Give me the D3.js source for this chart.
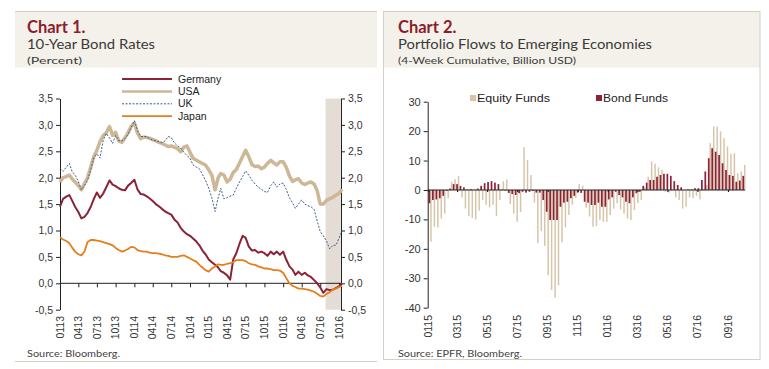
<!DOCTYPE html>
<html>
<head>
<meta charset="utf-8">
<script src="https://cdn.jsdelivr.net/npm/d3@7"></script>
<style>
  body { margin: 0; background: #fff; }
  svg { display: block; font-family: "Liberation Sans", Arial, sans-serif; }
  .ttl { font-family: Lato, "Noto Sans", sans-serif; }
</style>
</head>
<body>
<svg id="chart" width="769" height="369"></svg>
<script>
// ---- Chart 1: 10-year bond rates, semi-monthly readings (1st and 16th), Jan 2013 - Oct 2016
const germany = [1.45,1.6,1.64,1.67,1.57,1.45,1.35,1.23,1.26,1.33,1.45,1.6,1.72,1.62,1.7,1.82,1.95,1.87,1.84,1.8,
  1.77,1.76,1.85,1.9,1.96,1.78,1.69,1.68,1.65,1.61,1.56,1.5,1.46,1.41,1.36,1.33,1.3,1.21,1.15,1.05,
  0.98,0.93,0.9,0.85,0.79,0.72,0.62,0.55,0.45,0.4,0.35,0.3,0.23,0.2,0.15,0.07,0.45,0.57,0.75,0.9,
  0.86,0.7,0.62,0.63,0.58,0.6,0.57,0.52,0.6,0.55,0.6,0.54,0.6,0.45,0.32,0.26,0.16,0.22,0.16,0.2,
  0.15,0.12,0.06,0.0,-0.08,-0.18,-0.11,-0.13,-0.12,-0.09,-0.06,0.0];
const usa = [1.92,2.0,2.02,2.05,1.98,1.92,1.85,1.77,1.89,2.0,2.2,2.4,2.52,2.68,2.8,2.85,2.97,2.8,2.86,2.7,
  2.67,2.76,2.85,2.97,3.04,2.85,2.74,2.77,2.76,2.75,2.72,2.7,2.67,2.65,2.62,2.59,2.6,2.58,2.55,2.49,
  2.58,2.6,2.48,2.37,2.33,2.3,2.27,2.24,2.15,2.05,1.77,2.0,2.08,2.05,1.92,1.97,2.1,2.15,2.28,2.4,
  2.52,2.4,2.25,2.21,2.22,2.17,2.2,2.27,2.33,2.28,2.24,2.3,2.3,2.2,2.03,1.93,1.96,1.98,1.9,1.87,
  1.9,1.92,1.88,1.75,1.5,1.5,1.57,1.6,1.63,1.67,1.7,1.78];
const uk = [2.18,2.12,2.2,2.27,2.12,2.05,1.93,1.77,1.85,1.95,2.15,2.38,2.45,2.37,2.71,2.84,2.75,2.65,2.8,2.7,
  2.7,2.74,2.82,2.95,3.08,2.9,2.78,2.78,2.78,2.74,2.71,2.7,2.68,2.66,2.7,2.78,2.76,2.66,2.6,2.56,
  2.48,2.42,2.37,2.24,2.2,2.17,2.06,1.95,1.8,1.62,1.36,1.62,1.8,1.6,1.62,1.65,1.67,1.8,1.92,2.02,
  2.13,2.05,1.95,1.88,1.82,1.78,1.74,1.72,1.85,1.92,1.82,1.88,1.9,1.78,1.62,1.52,1.42,1.5,1.58,1.5,
  1.47,1.45,1.4,1.18,0.98,0.9,0.8,0.65,0.72,0.72,0.85,1.0];
const japan = [0.87,0.83,0.8,0.76,0.68,0.6,0.55,0.53,0.6,0.78,0.82,0.82,0.81,0.8,0.78,0.76,0.74,0.72,0.67,0.63,
  0.6,0.62,0.65,0.69,0.68,0.63,0.61,0.6,0.6,0.58,0.57,0.57,0.56,0.55,0.53,0.52,0.5,0.5,0.5,0.52,
  0.53,0.5,0.47,0.44,0.41,0.35,0.3,0.25,0.22,0.28,0.32,0.36,0.35,0.35,0.37,0.38,0.4,0.44,0.44,0.44,
  0.42,0.38,0.36,0.35,0.32,0.3,0.28,0.28,0.27,0.25,0.25,0.24,0.2,0.1,0.0,-0.05,-0.07,-0.1,-0.1,-0.11,
  -0.12,-0.14,-0.16,-0.2,-0.24,-0.25,-0.2,-0.17,-0.12,-0.1,-0.07,-0.05];
const rateTicks = [-0.5, 0, 0.5, 1, 1.5, 2, 2.5, 3, 3.5];
const shadePeriod = ['2016-07-27', '2016-10-10'];

// ---- Chart 2: portfolio flows, weekly (4-week cumulative, bn USD), Jan 2015 - Sep 2016
const equityFunds = [-17.6,-12.5,-12.7,-9.7,-8,-2.8,2.8,3.6,4.8,-2.5,-6.3,-8.9,-9.5,-10,-7,-3.4,-5,-5.9,-5,-8.9,
  -3.4,3,3.6,-4.8,-8,-10.8,-7.5,14.5,10.2,5.1,-4.3,-18,-14,-19,-29,-34,-36.6,-32.4,-17.8,-12.7,
  -8.5,-5,-2.8,2,1.4,-6,
  -9,-12.5,-12.3,-10.2,-10.8,-10.8,-8.5,-6.3,-4.5,-6.6,-8,-9.7,-10.2,-6.8,-4.5,-3.4,0.9,4.5,9.7,8.9,
  7.7,6.8,-0.6,-0.9,0.3,-2.5,-3.4,-6.3,-5.7,-2.5,-2.8,-2,-3.2,0.3,1.7,15.9,21.6,21.6,19.9,17.6,
  14.8,12.3,12.5,5.7,6.3,8.5];
const bondFunds = [-4.5,-3.4,-3.2,-2.8,-2,-0.3,0.5,2,2,1.4,0.9,0.2,0.3,0.1,0.5,1.4,2.3,2.7,3,2.5,
  2,0.2,-0.2,-1,-1.4,-1.7,-1.1,-0.6,-0.9,-0.6,-0.3,-0.9,-0.9,-3.4,-7.4,-10.2,-10.2,-10.2,-5.7,-4.3,
  -4,-2.8,-2,-0.9,-1,-4,
  -4.3,-5.1,-5.1,-4.3,-5.7,-5.7,-3.2,-2.5,-0.6,-1.7,-2.5,-4,-4.5,-2.5,-1.1,-0.6,1.4,2.5,3.4,3.4,
  4.5,5.1,5.5,5.5,4.8,3,1.7,0.9,0,0.2,0.2,0.6,0.6,3.4,6.3,10.8,14.2,13,11.9,9.1,
  6.8,5.1,4.8,2.8,3.2,4.8];
const flowTicks = [-40, -30, -20, -10, 0, 10, 20, 30];

const maroon = '#8c2236', tan = '#cdb795', navy = '#3e5d8e', orange = '#e47f1c';
const fmtComma = d => d3.format('.1f')(d).replace('.', ',').replace('\u2212', '-');
const fmtInt = d => d3.format('d')(d).replace('\u2212', '-');
const fmtMY = d3.timeFormat('%m%y');

const svg = d3.select('#chart');

// ---------- frames and headers
svg.append('rect').attr('x', 15).attr('y', 11.5).attr('width', 362).attr('height', 56).attr('fill', '#f4f1ea');
svg.append('line').attr('x1', 15).attr('x2', 377).attr('y1', 11.5).attr('y2', 11.5).attr('stroke', '#d6cfc4');
svg.append('line').attr('x1', 15).attr('x2', 377).attr('y1', 361.5).attr('y2', 361.5).attr('stroke', '#d6cfc4');
svg.append('rect').attr('x', 383.5).attr('y', 11.5).attr('width', 376.5).attr('height', 56).attr('fill', '#f4f1ea');
svg.append('rect').attr('x', 383.5).attr('y', 11.5).attr('width', 376.5).attr('height', 348)
  .attr('fill', 'none').attr('stroke', '#d6cfc4');

// header texts, widths (its font is wider than Lato)
const heads = [
  { x: 27, t: 'Chart 1.', s: '10-Year Bond Rates', sw: 128, n: '(Percent)', nw: 55, src: 'Source: Bloomberg.', srcw: 93 },
  { x: 398, t: 'Chart 2.', s: 'Portfolio Flows to Emerging Economies', sw: 254,
    n: '(4-Week Cumulative, Billion USD)', nw: 178, src: 'Source: EPFR, Bloomberg.', srcw: 124 }
];
heads.forEach(h => {
  svg.append('text').attr('class', 'ttl').attr('x', h.x).attr('y', 33).attr('font-size', 16.5)
    .attr('font-weight', 700).attr('fill', '#8b1c2c').text(h.t);
  svg.append('text').attr('class', 'ttl').attr('x', h.x).attr('y', 48.5).attr('font-size', 12.5)
    .attr('textLength', h.sw).attr('lengthAdjust', 'spacingAndGlyphs')
    .attr('fill', '#3a3a3a').text(h.s);
  svg.append('text').attr('class', 'ttl').attr('x', h.x).attr('y', 64).attr('font-size', 10)
    .attr('textLength', h.nw).attr('lengthAdjust', 'spacingAndGlyphs')
    .attr('fill', '#3a3a3a').text(h.n);
  svg.append('text').attr('class', 'ttl').attr('x', h.x).attr('y', 357).attr('font-size', 9)
    .attr('textLength', h.srcw).attr('lengthAdjust', 'spacingAndGlyphs')
    .attr('fill', '#444').text(h.src);
});

// ---------- Chart 1
const rateDates = d3.merge(d3.timeMonth.range(new Date(2013, 0, 1), new Date(2016, 10, 1))
  .map(m => [m, d3.timeDay.offset(m, 15)]));
const x1 = d3.scaleTime().domain([new Date(2013, 0, 1), new Date(2016, 9, 1)]).range([60, 339]);
const y1 = d3.scaleLinear().domain([-0.5, 3.5]).range([309.7, 98.5]);
const g1 = svg.append('g');

g1.append('rect')
  .attr('x', x1(new Date(shadePeriod[0]))).attr('y', y1(3.5))
  .attr('width', x1(new Date(shadePeriod[1])) - x1(new Date(shadePeriod[0])))
  .attr('height', y1(-0.5) - y1(3.5)).attr('fill', '#e3ddd6');

const leftAxis = g1.append('g').attr('transform', 'translate(60,0)')
  .call(d3.axisLeft(y1).tickValues(rateTicks).tickSize(4).tickSizeOuter(0).tickFormat(fmtComma));
const rightAxis = g1.append('g').attr('transform', 'translate(341,0)')
  .call(d3.axisRight(y1).tickValues(rateTicks).tickSize(4).tickSizeOuter(0).tickFormat(fmtComma));
[leftAxis, rightAxis].forEach(a => {
  a.selectAll('text').attr('font-size', 10.5).attr('fill', '#333');
  a.selectAll('line,path').attr('stroke', '#222');
});

const quarterTicks = d3.timeMonth.every(3).range(new Date(2013, 0, 1), new Date(2016, 9, 2));
g1.append('g').attr('transform', `translate(0,${y1(0)})`)
  .call(d3.axisBottom(x1).tickValues(quarterTicks).tickSize(4).tickSizeOuter(0).tickFormat(''))
  .call(a => a.select('.domain').attr('d', `M60,0H341`))
  .selectAll('line,path').attr('stroke', '#222');
g1.append('g').selectAll('text').data(quarterTicks).join('text')
  .attr('transform', d => `translate(${x1(d)},316) rotate(-90)`)
  .attr('text-anchor', 'end').attr('dy', '0.35em')
  .attr('font-size', 10.5).attr('fill', '#333').text(fmtMY);

const rateLine = d3.line().x((d, i) => x1(rateDates[i])).y(d => y1(d));
const rateSeries = [
  { name: 'Germany', values: germany, color: maroon, w: 2, dash: null },
  { name: 'USA', values: usa, color: tan, w: 3.5, dash: null },
  { name: 'UK', values: uk, color: navy, w: 1, dash: '2,1.5' },
  { name: 'Japan', values: japan, color: orange, w: 1.8, dash: null }
];
['USA', 'UK', 'Germany', 'Japan'].forEach(n => {
  const s = rateSeries.find(r => r.name === n);
  g1.append('path').datum(s.values).attr('d', rateLine)
    .attr('fill', 'none').attr('stroke', s.color).attr('stroke-width', s.w)
    .attr('stroke-dasharray', s.dash).attr('stroke-linejoin', 'round');
});

const leg1 = g1.append('g').selectAll('g').data(rateSeries).join('g')
  .attr('transform', (d, i) => `translate(122,${79 + i * 12.4})`);
leg1.append('line').attr('x1', 0).attr('x2', 50)
  .attr('stroke', d => d.color).attr('stroke-width', d => Math.min(d.w, 2.5)).attr('stroke-dasharray', d => d.dash);
leg1.append('text').attr('x', 56).attr('dy', '0.35em').attr('font-size', 10.5).attr('fill', '#222').text(d => d.name);

// ---------- Chart 2
const weeks = d3.timeFriday.range(new Date(2015, 0, 2), new Date(2016, 9, 1));
const x2 = d3.scaleTime().domain([new Date(2015, 0, 1), new Date(2016, 8, 1)]).range([428, 728]);
const y2 = d3.scaleLinear().domain([-40, 30]).range([307.7, 101.7]);
const g2 = svg.append('g');

const bars = g2.append('g');
bars.selectAll('rect.eq').data(equityFunds).join('rect').attr('class', 'eq')
  .attr('x', (d, i) => x2(weeks[i]) + 1.7).attr('width', 1.5)
  .attr('y', d => y2(Math.max(0, d))).attr('height', d => Math.abs(y2(d) - y2(0)))
  .attr('fill', '#d7c5ab');
bars.selectAll('rect.bd').data(bondFunds).join('rect').attr('class', 'bd')
  .attr('x', (d, i) => x2(weeks[i]) + 0.1).attr('width', 1.7)
  .attr('y', d => y2(Math.max(0, d))).attr('height', d => Math.abs(y2(d) - y2(0)))
  .attr('fill', maroon);

const flowAxis = g2.append('g').attr('transform', 'translate(427.7,0)')
  .call(d3.axisLeft(y2).tickValues(flowTicks).tickSize(4).tickSizeOuter(0).tickFormat(fmtInt));
flowAxis.selectAll('text').attr('font-size', 11).attr('fill', '#333');
flowAxis.selectAll('line,path').attr('stroke', '#222');

const monthTicks = d3.timeMonth.every(2).range(new Date(2015, 0, 1), new Date(2016, 8, 2));
g2.append('g').attr('transform', `translate(0,${y2(0)})`)
  .call(d3.axisBottom(x2).tickValues(monthTicks).tickSize(2).tickSizeOuter(0).tickFormat(''))
  .call(a => a.select('.domain').attr('d', 'M427.7,0H745'))
  .selectAll('line,path').attr('stroke', '#222').attr('stroke-width', 1.2);
g2.append('g').selectAll('text').data(monthTicks).join('text')
  .attr('transform', d => `translate(${x2(d)},315) rotate(-90)`)
  .attr('text-anchor', 'end').attr('dy', '0.35em')
  .attr('font-size', 10.5).attr('fill', '#333').text(fmtMY);

const flowKeys = [
  { name: 'Equity Funds', color: '#d7c5ab', x: 470, w: 73 },
  { name: 'Bond Funds', color: maroon, x: 596, w: 65 }
];
const leg2 = g2.append('g').selectAll('g').data(flowKeys).join('g')
  .attr('transform', d => `translate(${d.x},95)`);
leg2.append('rect').attr('width', 6).attr('height', 6).attr('fill', d => d.color);
leg2.append('text').attr('x', 7).attr('y', 6.5).attr('font-size', 11)
  .attr('textLength', d => d.w).attr('lengthAdjust', 'spacingAndGlyphs')
  .attr('fill', '#222').text(d => d.name);
</script>
</body>
</html>
